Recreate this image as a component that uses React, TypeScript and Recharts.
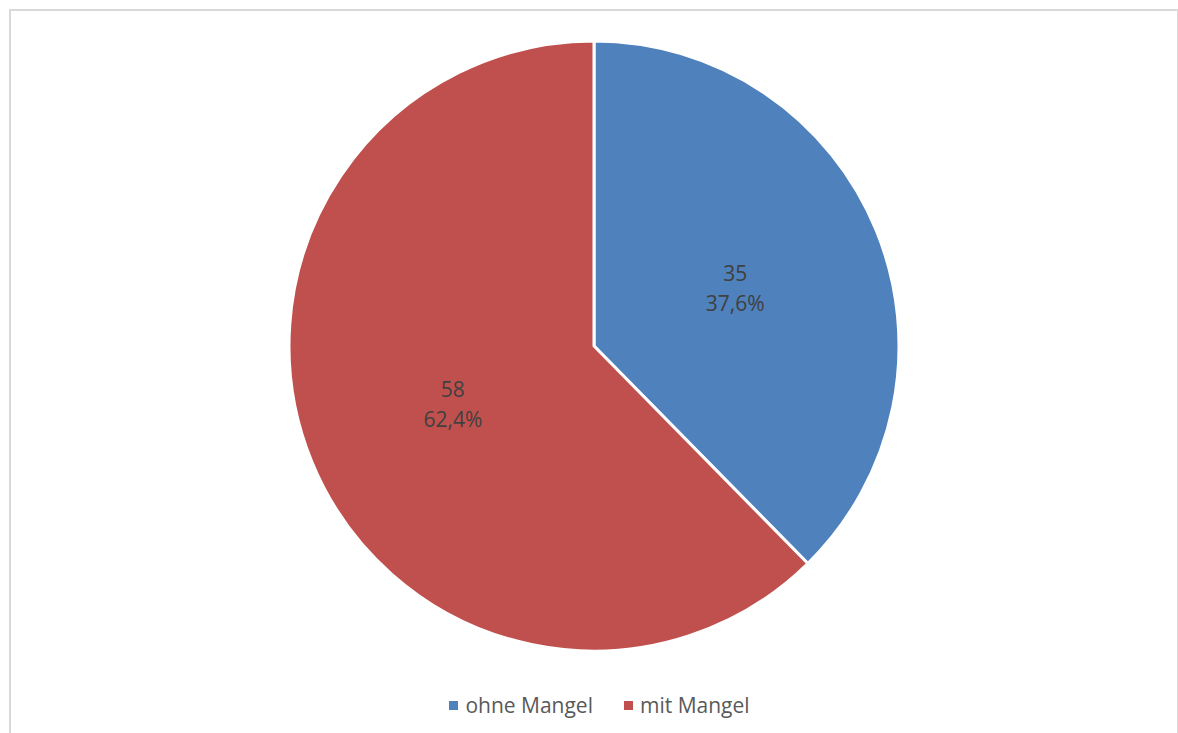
import { PieChart, Pie, Cell, Legend } from 'recharts'

const categories = ['ohne Mangel', 'mit Mangel']
const counts = [35, 58]
const colors = ['#4f81bd', '#c0504d']

const data = categories.map((name, i) => ({ name, value: counts[i] }))
const total = counts.reduce((a, b) => a + b, 0)

const RAD = Math.PI / 180
const FONT = '"Open Sans", Lato, sans-serif'

function SliceLabel(props: any) {
  const { cx, cy, midAngle, outerRadius, value } = props
  const r = outerRadius * 0.5
  const x = cx + r * Math.cos(-midAngle * RAD)
  const y = cy + r * Math.sin(-midAngle * RAD)
  const pct = ((value / total) * 100).toFixed(1).replace('.', ',') + '%'
  return (
    <text x={x} y={y} textAnchor="middle" fill="#404040" fontSize={21} fontFamily={FONT}>
      <tspan x={x} dy={-7}>{value}</tspan>
      <tspan x={x} dy={30}>{pct}</tspan>
    </text>
  )
}

function LegendBox() {
  return (
    <div style={{ display: 'flex', justifyContent: 'center', gap: 31, paddingLeft: 21, fontFamily: FONT, fontSize: 21, color: '#595959' }}>
      {categories.map((c, i) => (
        <div key={c} style={{ display: 'flex', alignItems: 'center' }}>
          <span style={{ width: 9, height: 9, background: colors[i], marginRight: 7, display: 'inline-block' }} />
          {c}
        </div>
      ))}
    </div>
  )
}

export default function App() {
  return (
    <div style={{ position: 'absolute', left: 0, top: 0, width: 1178, height: 733, background: '#fff', overflow: 'hidden' }}>
      <div style={{ position: 'absolute', left: 9, top: 9, width: 1166, height: 740, border: '2px solid #d9d9d9', borderBottom: 'none' }} />
      <div style={{ position: 'absolute', left: 0, top: 0 }}>
        <PieChart width={1178} height={733} margin={{ top: 0, right: 0, bottom: 0, left: 0 }}>
          <Pie
            data={data}
            dataKey="value"
            nameKey="name"
            cx={594}
            cy={346}
            outerRadius={305}
            startAngle={90}
            endAngle={-270}
            stroke="#ffffff"
            strokeWidth={3}
            label={SliceLabel}
            labelLine={false}
            isAnimationActive={false}
          >
            {data.map((d, i) => (
              <Cell key={d.name} fill={colors[i]} />
            ))}
          </Pie>
          <Legend content={<LegendBox />} wrapperStyle={{ left: 0, width: 1178, top: 691 }} />
        </PieChart>
      </div>
    </div>
  )
}
